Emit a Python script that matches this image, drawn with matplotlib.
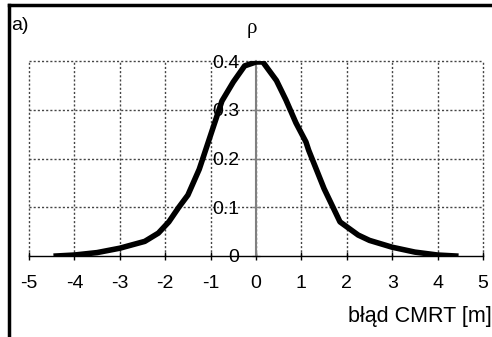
import matplotlib.pyplot as plt
from matplotlib.lines import Line2D

plt.rcParams['font.family'] = ['Liberation Sans', 'DejaVu Sans']

# error in metres vs. density
blad = [-4.4, -4.0, -3.5, -3.0, -2.45, -2.15, -1.92, -1.7, -1.5, -1.25, -1.0,
        -0.75, -0.5, -0.25, 0.0, 0.15, 0.45, 0.66, 0.88, 1.1, 1.16, 1.5,
        1.85, 2.25, 2.5, 3.0, 3.5, 4.0, 4.4]
rho = [0.0, 0.002, 0.007, 0.016, 0.03, 0.047, 0.07, 0.1, 0.125, 0.178, 0.248,
       0.318, 0.357, 0.39, 0.398, 0.398, 0.36, 0.32, 0.273, 0.234, 0.217, 0.138,
       0.07, 0.043, 0.032, 0.018, 0.008, 0.002, 0.0]

xticks = [-5, -4, -3, -2, -1, 0, 1, 2, 3, 4, 5]
yticks = [0, 0.1, 0.2, 0.3, 0.4]
ytick_labels = ['0', '0.1', '0.2', '0.3', '0.4']

fig = plt.figure(figsize=(4.92, 3.37), dpi=100)
ax = fig.add_axes([29 / 492, 1 - 256 / 337, 454 / 492, 195 / 337])

# dotted grid
for xv in xticks:
    ax.axvline(xv, color='#444444', lw=1, ls=(0, (1.5, 1.5)), zorder=1, clip_on=False)
for yv in yticks[1:]:
    ax.axhline(yv, color='#444444', lw=1, ls=(0, (1.5, 1.5)), zorder=1, clip_on=False)

ax.plot(blad, rho, color='black', lw=4, solid_joinstyle='round', zorder=4)

ax.set_xlim(-5, 5)
ax.set_ylim(0, 0.4)

for s in ['top', 'right']:
    ax.spines[s].set_visible(False)
ax.spines['left'].set_position(('data', 0))
ax.spines['left'].set_color('#808080')
ax.spines['left'].set_linewidth(1.5)
ax.spines['left'].set_zorder(2)
ax.spines['bottom'].set_color('black')
ax.spines['bottom'].set_linewidth(1)

ax.set_xticks(xticks)
ax.set_xticklabels([str(v) for v in xticks])
ax.set_yticks(yticks)
ax.set_yticklabels(ytick_labels)
ax.tick_params(axis='x', direction='inout', length=6, width=1, pad=11, labelsize=14)
ax.tick_params(axis='y', direction='inout', length=6, width=1, color='#808080',
               pad=9, labelsize=14)
for lab in ax.get_yticklabels():
    lab.set_zorder(3)

fig.text(492 / 492, 1 - 322 / 337, 'błąd CMRT [m]', ha='right', va='baseline', fontsize=15.5)
fig.text(252 / 492, 1 - 29 / 337, 'ρ', ha='center', va='center', fontsize=15,
         family=['Liberation Serif', 'DejaVu Serif'])
fig.text(11 / 492, 1 - 25 / 337, 'a)', ha='left', va='center', fontsize=14)

# frame lines (top and left only)
fig.add_artist(Line2D([8.5 / 492, 1], [1 - 4.5 / 337, 1 - 4.5 / 337],
                      transform=fig.transFigure, color='black', lw=2.5))
fig.add_artist(Line2D([9 / 492, 9 / 492], [0, 1 - 4.5 / 337],
                      transform=fig.transFigure, color='black', lw=2.5))

fig.savefig('out.png', dpi=100)
